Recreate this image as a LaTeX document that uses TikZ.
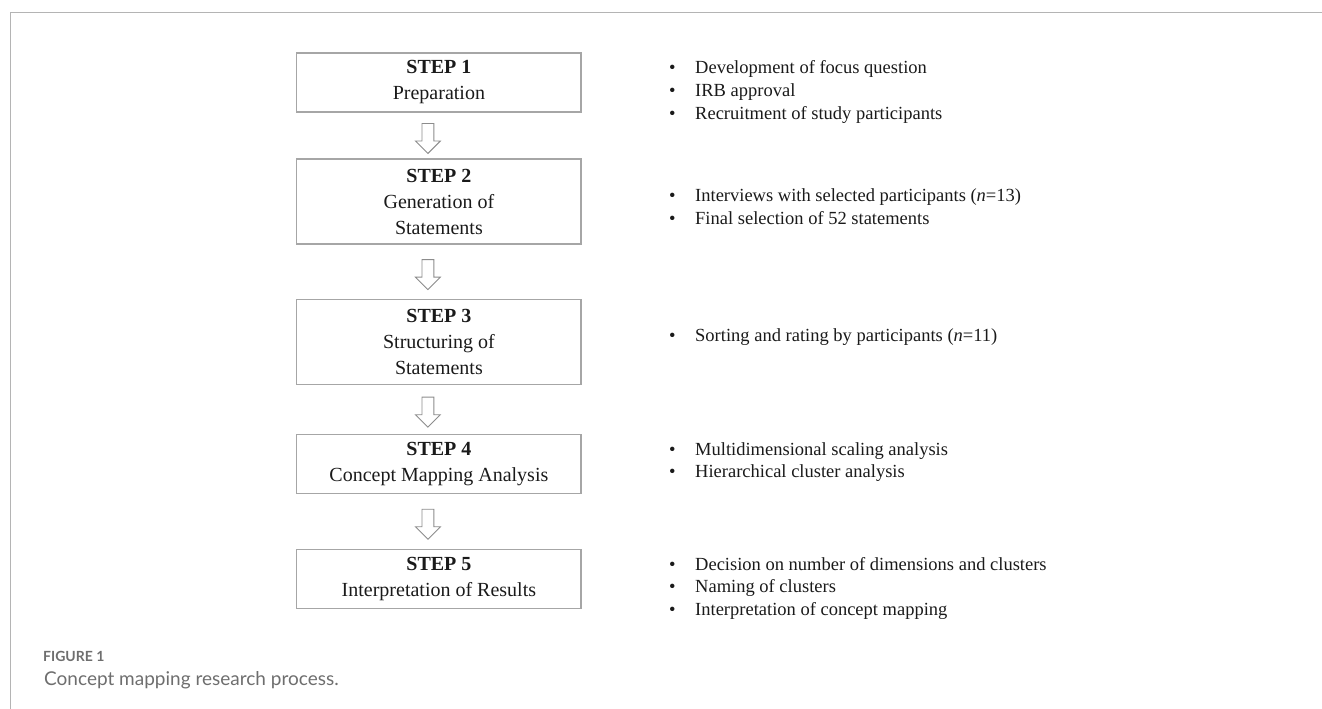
\documentclass[tikz,border=0pt]{standalone}
\usepackage{fontspec}
\setmainfont{Liberation Serif}
\newfontfamily\capfont{Lato}
\usetikzlibrary{shapes.arrows,calc}

\definecolor{framegray}{HTML}{B4B4B4}
\definecolor{boxgray}{HTML}{A6A6A6}
\definecolor{arrowgray}{HTML}{8C8C8C}
\definecolor{inkgray}{HTML}{1A1A1A}
\definecolor{capgray}{HTML}{6E6E6E}

% bullet with a fixed gap before the item text
\newcommand{\blt}{\makebox[26pt][l]{\textbullet}}
% list of items, base at the first line
\newcommand{\tasks}[1]{\begin{tabular}[t]{@{}l@{}}#1\end{tabular}}

\tikzset{
  stepbox/.style={draw=boxgray, line width=1.2pt, minimum width=284.3pt,
    inner sep=0pt, align=center, text=inkgray,
    font=\fontsize{20}{26}\selectfont},
  itemlist/.style={inner sep=0pt, anchor=base west, text=inkgray,
    font=\fontsize{18.5}{22.6}\selectfont},
  downarrow/.style={single arrow, draw=arrowgray, fill=white, line width=0.9pt,
    shape border rotate=270, minimum height=30pt, minimum width=24pt,
    single arrow head extend=6.5pt, inner sep=5.5pt},
}

\begin{document}
\begin{tikzpicture}[x=1pt,y=-1pt]
  \useasboundingbox (0,0) rectangle (1322,709);
  % frame
  \draw[framegray, line width=1pt] (1322,12.3) -- (10,12.3) -- (10,709);

  % steps
  \node[stepbox, minimum height=59pt] (s1) at (438.9,82.5)
    {\textbf{STEP 1}\\Preparation};
  \node[stepbox, minimum height=85pt] (s2) at (438.9,201.5)
    {\textbf{STEP 2}\\Generation of\\Statements};
  \node[stepbox, minimum height=85pt] (s3) at (438.9,341.7)
    {\textbf{STEP 3}\\Structuring of\\Statements};
  \node[stepbox, minimum height=59pt] (s4) at (438.9,463.7)
    {\textbf{STEP 4}\\Concept Mapping Analysis};
  \node[stepbox, minimum height=59pt] (s5) at (438.9,578.8)
    {\textbf{STEP 5}\\Interpretation of Results};

  % arrows between the steps
  \node[downarrow] (a1) at ($(s1.south)!0.5!(s2.north)+(-11,0)$) {};
  \node[downarrow] (a2) at ($(s2.south)!0.5!(s3.north)+(-11,0)$) {};
  \node[downarrow] (a3) at ($(s3.south)!0.5!(s4.north)+(-11,0)$) {};
  \node[downarrow] (a4) at ($(s4.south)!0.5!(s5.north)+(-11,0)$) {};

  % tasks of each step
  \node[itemlist] (l1) at (669,74)
    {\tasks{\blt Development of focus question\\
     \blt IRB approval\\
     \blt Recruitment of study participants}};
  \node[itemlist] (l2) at (669,201.7)
    {\tasks{\blt Interviews with selected participants (\textit{n}=13)\\
     \blt Final selection of 52 statements}};
  \node[itemlist] (l3) at (669,341.7)
    {\tasks{\blt Sorting and rating by participants (\textit{n}=11)}};
  \node[itemlist] (l4) at (669,455)
    {\tasks{\blt Multidimensional scaling analysis\\
     \blt Hierarchical cluster analysis}};
  \node[itemlist] (l5) at (669,570)
    {\tasks{\blt Decision on number of dimensions and clusters\\
     \blt Naming of clusters\\
     \blt Interpretation of concept mapping}};

  % caption
  \node[anchor=base west, inner sep=0pt, text=capgray,
    font=\capfont\bfseries\fontsize{14}{16}\selectfont] (fig) at (43,661) {FIGURE 1};
  \node[anchor=base west, inner sep=0pt, text=capgray,
    font=\capfont\fontsize{19}{22}\selectfont] (cap) at (44,685)
    {Concept mapping research process.};
\end{tikzpicture}
\end{document}
